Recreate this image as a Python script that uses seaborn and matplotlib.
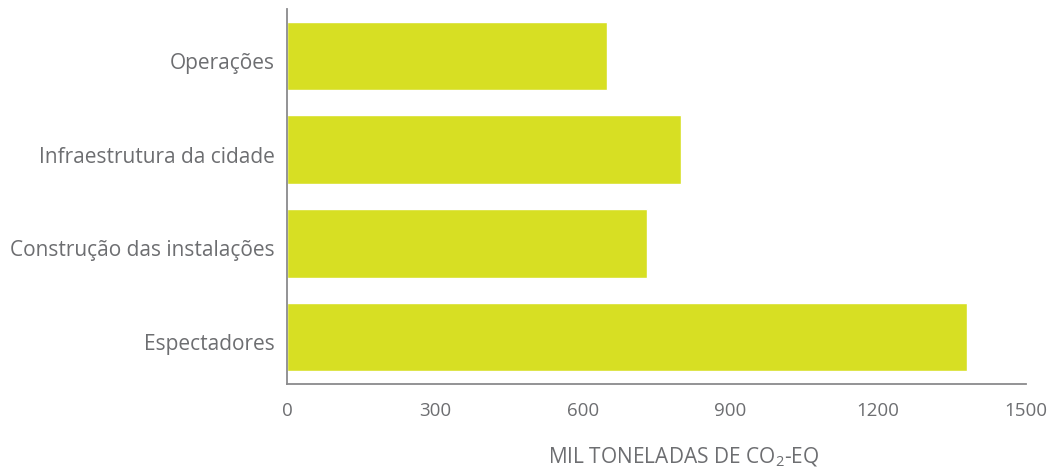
import matplotlib
matplotlib.use("Agg")
import matplotlib.pyplot as plt
import matplotlib.transforms as mtransforms
import seaborn as sns
import pandas as pd

# Emission sources and footprint (thousand tonnes CO2-eq)
categories = ["Operações", "Infraestrutura da cidade", "Construção das instalações", "Espectadores"]
values = [650, 800, 730, 1380]
x_ticks = [0, 300, 600, 900, 1200, 1500]

df = pd.DataFrame({"fonte": categories, "emissoes": values})

sns.set_theme(style="white")
plt.rcParams["font.family"] = ["Open Sans", "DejaVu Sans"]
plt.rcParams["mathtext.fontset"] = "custom"
plt.rcParams["mathtext.rm"] = "Open Sans"
plt.rcParams["mathtext.it"] = "Open Sans"

text_color = "#6d6e71"
spine_color = "#8a8a8c"
bar_color = "#d7df23"

fig = plt.figure(figsize=(10.58, 4.74), dpi=100)
ax = fig.add_axes([287 / 1058, 1 - 384 / 474, (1026 - 287) / 1058, (384 - 9) / 474])

sns.barplot(data=df, x="emissoes", y="fonte", order=categories, orient="h",
            color=bar_color, saturation=1, width=0.73, ax=ax)

ax.set_xlim(0, 1500)
ax.set_ylim(3.5, -0.5)
ax.set_xticks(x_ticks)
ax.set_xticklabels([str(t) for t in x_ticks])

for side in ("top", "right"):
    ax.spines[side].set_visible(False)
for side in ("left", "bottom"):
    ax.spines[side].set_color(spine_color)
    ax.spines[side].set_linewidth(1.3)

ax.tick_params(axis="x", direction="in", length=6, width=1.1, color=spine_color,
               labelsize=13.5, labelcolor=text_color, pad=13)
ax.tick_params(axis="y", length=0, labelsize=15, labelcolor=text_color, pad=9)

# nudge category labels slightly below the bar centres
offset = mtransforms.ScaledTranslation(0, -0.05, fig.dpi_scale_trans)
for lbl in ax.get_yticklabels():
    lbl.set_transform(lbl.get_transform() + offset)

ax.set_ylabel("")
ax.set_xlabel(r"MIL TONELADAS DE CO$_{\mathrm{2}}$-EQ", fontsize=15, color=text_color)
ax.xaxis.set_label_coords((684 - 287) / (1026 - 287), -0.165)

fig.savefig("out.png", dpi=100)
